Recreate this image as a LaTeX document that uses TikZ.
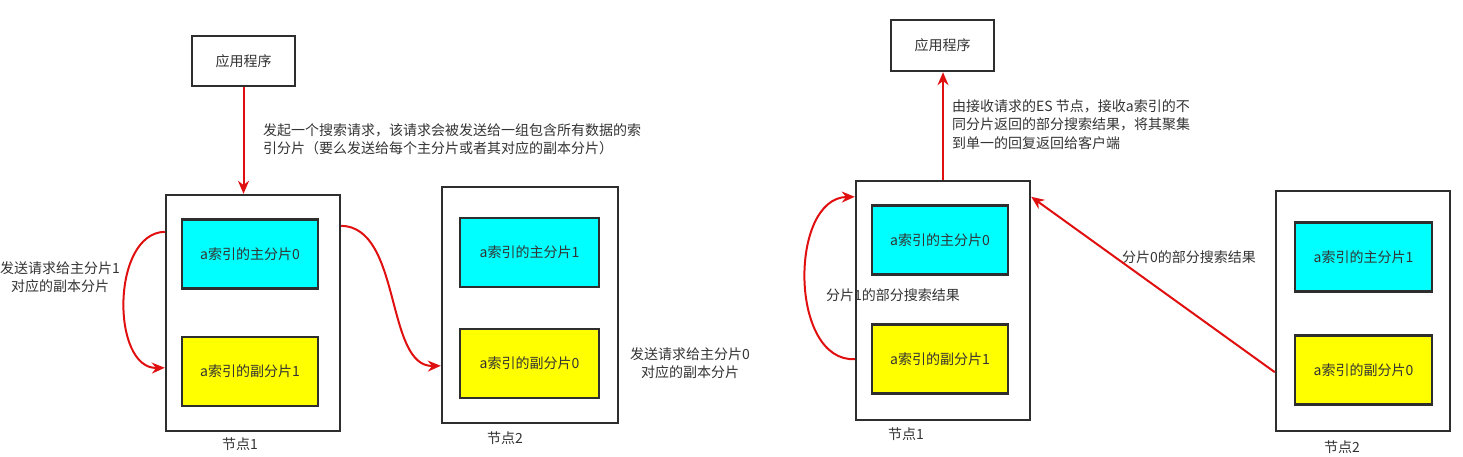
\documentclass[tikz,border=0pt]{standalone}
\usepackage{fontspec}
\setmainfont{Noto Sans CJK SC}
\usetikzlibrary{arrows.meta,calc}
\definecolor{txt}{HTML}{333333}
\definecolor{bord}{HTML}{2E2E2E}
\definecolor{redline}{HTML}{E01010}
\definecolor{cyanfill}{HTML}{00FFFF}
\definecolor{yellowfill}{HTML}{FFFF00}
\tikzset{
  box/.style={draw=bord,line width=2.4pt,fill=white,inner sep=0pt,font=\fontsize{14}{16}\selectfont,text=txt},
  outer/.style={draw=bord,line width=2.4pt,inner sep=0pt},
  prim/.style={draw=bord,line width=2.4pt,fill=cyanfill,inner sep=0pt,minimum width=136pt,minimum height=69pt,font=\fontsize{14}{16}\selectfont,text=txt},
  repl/.style={draw=bord,line width=2.4pt,fill=yellowfill,inner sep=0pt,minimum width=136pt,minimum height=69pt,font=\fontsize{14}{16}\selectfont,text=txt},
  lbl/.style={inner sep=0pt,font=\fontsize{14}{18.5}\selectfont,text=txt},
  rarrow/.style={draw=redline,line width=2pt,-{Stealth[length=13pt,width=11pt]}},
}
\begin{document}
\begin{tikzpicture}[x=1pt,y=-1pt]
\useasboundingbox (0,0) rectangle (1463,457);
% ---------- left panel ----------
\node[box,minimum width=103pt,minimum height=50pt] (appL) at (243.5,61) {应用程序};
\node[outer,minimum width=174pt,minimum height=236pt] (L1) at (253,313) {};
\node[prim] (L1p) at (250,254) {a索引的主分片0};
\node[repl] (L1r) at (250,371.5) {a索引的副分片1};
\node[outer,minimum width=176pt,minimum height=236pt] (L2) at (530,305) {};
\node[prim,minimum width=139pt] (L2p) at (529.5,252.5) {a索引的主分片1};
\node[repl,minimum width=139pt] (L2r) at (529.5,363.5) {a索引的副分片0};
\node[lbl] (n1L) at (240,444) {节点1};
\node[lbl] (n2L) at (505,438) {节点2};
\node[lbl,anchor=north west,align=left] (tL) at (263,123) {发起一个搜索请求，该请求会被发送给一组包含所有数据的索\\引分片（要么发送给每个主分片或者其对应的副本分片）};
\node[lbl,align=center] (lL) at (60,277) {发送请求给主分片1\\对应的副本分片};
\node[lbl,align=center] (rL) at (690,363) {发送请求给主分片0\\对应的副本分片};
\draw[rarrow] (appL.south) -- (appL.south |- L1.north);
\draw[rarrow] ([yshift=-38pt]L1.north west) .. controls (111,233) and (111,369) .. ([yshift=-174pt]L1.north west);
\draw[rarrow] ([yshift=-32pt]L1.north east) .. controls (402,227) and (385,367) .. ([yshift=-180pt]L2.north west);
% ---------- right panel ----------
\node[box,minimum width=103pt,minimum height=51pt] (appR) at (942.5,45.5) {应用程序};
\node[outer,minimum width=174pt,minimum height=239pt] (R1) at (943,300.5) {};
\node[prim] (R1p) at (940,240) {a索引的主分片0};
\node[repl] (R1r) at (940,359) {a索引的副分片1};
\node[outer,minimum width=174pt,minimum height=240pt] (R2) at (1363,311) {};
\node[prim,minimum width=137pt] (R2p) at (1363.5,257) {a索引的主分片1};
\node[repl,minimum width=137pt] (R2r) at (1363.5,370) {a索引的副分片0};
\node[lbl] (n1R) at (906,434) {节点1};
\node[lbl] (n2R) at (1342,447) {节点2};
\node[lbl,anchor=north west,align=left] (tR) at (952,99) {由接收请求的ES 节点，接收a索引的不\\同分片返回的部分搜索结果，将其聚集\\到单一的回复返回给客户端};
\node[lbl,anchor=west] (s1) at (826,295) {分片1的部分搜索结果};
\node[lbl,anchor=west] (s0) at (1122,257) {分片0的部分搜索结果};
\draw[rarrow] (R1.north) -- (R1.north |- appR.south);
\draw[rarrow] ([yshift=62pt]R1.south west) .. controls (789,362) and (789,198) .. ([yshift=-17pt]R1.north west);
\draw[rarrow] ([yshift=60pt]R2.south west) -- ([yshift=-17pt]R1.north east);
\end{tikzpicture}
\end{document}
